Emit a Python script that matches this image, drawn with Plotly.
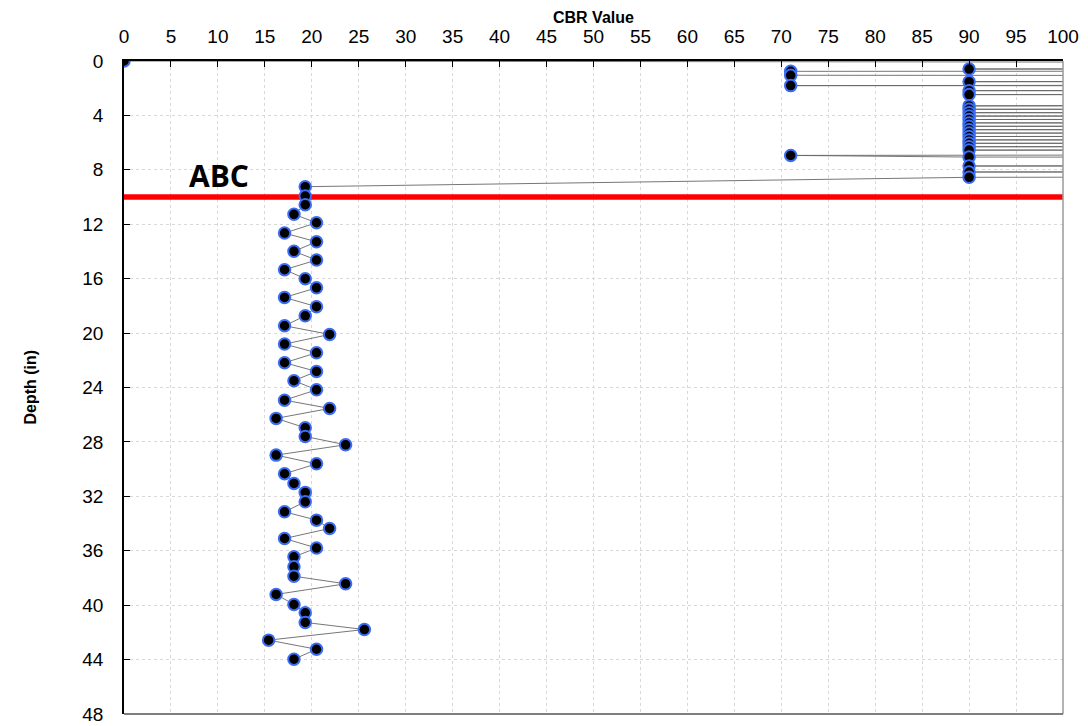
import plotly.graph_objects as go

# Depth (in) and CBR values along the test sequence (values > 100 run off the chart)
depth = [
    0.0, 0.3, 0.59, 0.7, 0.76, 1.05, 1.15, 1.52, 1.6, 1.81, 1.9, 2.18, 2.3, 2.47, 2.6,
    3.3, 3.4, 3.55, 3.65, 3.8, 3.9, 4.05, 4.15, 4.3, 4.4, 4.55, 4.65, 4.8, 4.9,
    5.05, 5.15, 5.3, 5.4, 5.55, 5.65, 5.8, 5.9, 6.05, 6.15, 6.3, 6.4, 6.55, 6.7,
    6.94, 7.06, 7.2, 7.72, 7.85, 8.16, 8.3, 8.55,
    9.24, 9.93, 10.56, 11.27, 11.89, 12.65, 13.29, 13.99, 14.63, 15.34, 16.0, 16.67,
    17.38, 18.06, 18.73, 19.46, 20.1, 20.81, 21.45, 22.18, 22.82, 23.5, 24.17, 24.93,
    25.54, 26.27, 26.96, 27.6, 28.21, 28.97, 29.61, 30.34, 31.05, 31.71, 32.4, 33.14,
    33.75, 34.36, 35.1, 35.8, 36.45, 37.18, 37.87, 38.43, 39.21, 39.95, 40.56, 41.27,
    41.79, 42.57, 43.24, 43.97,
]
cbr = [
    0, 400, 90, 400, 71, 71, 400, 90, 400, 71, 400, 90, 400, 90, 400,
    90, 400, 90, 400, 90, 400, 90, 400, 90, 400, 90, 400, 90, 400,
    90, 400, 90, 400, 90, 400, 90, 400, 90, 400, 90, 400, 90, 400,
    71, 90, 400, 90, 400, 90, 400, 90,
    19.3, 19.3, 19.3, 18.1, 20.5, 17.1, 20.5, 18.1, 20.5, 17.1, 19.3, 20.5,
    17.1, 20.5, 19.3, 17.1, 21.9, 17.1, 20.5, 17.1, 20.5, 18.1, 20.5, 17.1,
    21.9, 16.2, 19.3, 19.3, 23.6, 16.2, 20.5, 17.1, 18.1, 19.3, 19.3, 17.1,
    20.5, 21.9, 17.1, 20.5, 18.1, 18.1, 18.1, 23.6, 16.2, 18.1, 19.3, 19.3,
    25.6, 15.4, 20.5, 18.1,
]

layer_depth = 10
layer_label = "ABC"
x_ticks = list(range(0, 101, 5))
y_ticks = list(range(0, 49, 4))

fig = go.Figure()

fig.add_trace(go.Scatter(
    x=[0, 100], y=[layer_depth, layer_depth], mode="lines",
    line=dict(color="#ff0000", width=5.5), hoverinfo="skip", showlegend=False,
))

fig.add_trace(go.Scatter(
    x=cbr, y=depth, mode="lines+markers",
    line=dict(color="#666666", width=0.9),
    marker=dict(size=11.5, color="black", line=dict(color="#3a6cf4", width=2)),
    showlegend=False, cliponaxis=True,
))

fig.add_annotation(x=10.1, y=8.4, text="<b>" + layer_label + "</b>", showarrow=False,
                   font=dict(size=30, color="black", family="Open Sans"),
                   xref="x", yref="y", xanchor="center", yanchor="middle")

fig.add_annotation(x=0.5, y=1.0, xref="paper", yref="paper", yshift=44,
                   xanchor="center", yanchor="middle",
                   text="<b>CBR Value</b>", showarrow=False,
                   font=dict(size=16, color="black", family="Liberation Sans"))
fig.add_annotation(x=0, y=0.5, xref="paper", yref="paper", xshift=-94,
                   xanchor="center", yanchor="middle",
                   text="<b>Depth (in)</b>", showarrow=False, textangle=-90,
                   font=dict(size=16, color="black", family="Liberation Sans"))

# right and bottom frame lines
fig.add_shape(type="line", xref="paper", yref="paper", x0=1, x1=1, y0=0, y1=1,
              line=dict(color="#9a9a9a", width=1.5))
fig.add_shape(type="line", xref="paper", yref="paper", x0=0, x1=1, y0=0, y1=0,
              line=dict(color="#555555", width=1.5))

fig.update_xaxes(
    side="top", range=[0, 100], tickvals=x_ticks, ticks="inside", ticklen=6,
    tickcolor="black", showline=True, linecolor="black", linewidth=1.5,
    showgrid=True, gridcolor="#d8d8d8", griddash="dot", gridwidth=1,
    zeroline=False, tickfont=dict(size=19, color="black", family="Liberation Sans"),
    ticklabelstandoff=9, automargin=False,
)
fig.update_yaxes(
    range=[48, 0], tickvals=y_ticks, ticks="inside", ticklen=6,
    tickcolor="black", showline=True, linecolor="black", linewidth=1.5,
    showgrid=True, gridcolor="#d8d8d8", griddash="dot", gridwidth=1,
    zeroline=False, tickfont=dict(size=19, color="black", family="Liberation Sans"),
    ticklabelstandoff=15, automargin=False,
)

fig.update_layout(
    width=1072, height=718,
    margin=dict(l=116, r=17, t=53, b=12),
    paper_bgcolor="white", plot_bgcolor="white",
)

fig.write_html("out.html")
